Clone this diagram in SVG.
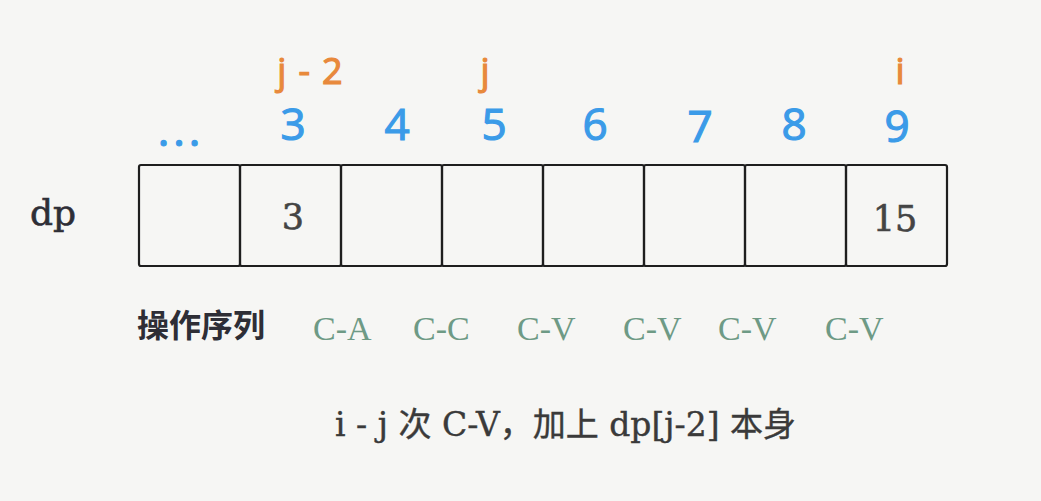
<svg xmlns="http://www.w3.org/2000/svg" width="1041" height="501" viewBox="0 0 1041 501">
<style>
.cell{fill:none;stroke:#1e1e1e;stroke-width:2.2}
.idx{font-family:"Open Sans","DejaVu Sans",sans-serif;font-size:44px;fill:#3b9be8;stroke:#3b9be8;stroke-width:1.2;text-anchor:middle}
.ptr{font-family:"Open Sans","DejaVu Sans",sans-serif;font-size:36px;fill:#e8893b;stroke:#e8893b;stroke-width:1.2;text-anchor:middle}
.val{font-family:"DejaVu Serif",serif;font-size:35px;fill:#444;stroke:#444;stroke-width:0.6;text-anchor:middle}
.op{font-family:"Liberation Serif",serif;font-size:34px;fill:#6e9a85}
.lbl{font-family:"DejaVu Serif",serif;font-size:36px;fill:#2e2e36;stroke:#2e2e36;stroke-width:0.6}
.cjk{font-family:"Noto Sans CJK SC",sans-serif;font-size:32px;font-weight:bold;fill:#2e2e36}
.note{font-family:"DejaVu Serif","Noto Sans CJK SC",serif;font-size:33px;fill:#3a3a3a;stroke:#3a3a3a;stroke-width:0.4}
</style>
<rect width="1041" height="501" fill="#f6f6f4"/>
<g id="pointers">
<text class="ptr" x="316" y="84" letter-spacing="12">j-2</text>
<text class="ptr" x="485" y="84">j</text>
<text class="ptr" x="900" y="84">i</text>
</g>
<g id="indices">
<text class="idx" x="181" y="146" letter-spacing="4">...</text>
<text class="idx" x="293" y="140">3</text>
<text class="idx" x="397" y="140">4</text>
<text class="idx" x="494" y="140">5</text>
<text class="idx" x="595" y="140">6</text>
<text class="idx" x="700" y="142">7</text>
<text class="idx" x="794" y="140">8</text>
<text class="idx" x="897" y="142">9</text>
</g>
<text class="lbl" x="30" y="225">dp</text>
<g id="cell-2"><rect class="cell" x="139" y="165" width="101" height="101" rx="2"/></g>
<g id="cell-3"><rect class="cell" x="240" y="165" width="101" height="101" rx="2"/><text class="val" x="293" y="229">3</text></g>
<g id="cell-4"><rect class="cell" x="341" y="165" width="101" height="101" rx="2"/></g>
<g id="cell-5"><rect class="cell" x="442" y="165" width="101" height="101" rx="2"/></g>
<g id="cell-6"><rect class="cell" x="543" y="165" width="101" height="101" rx="2"/></g>
<g id="cell-7"><rect class="cell" x="644" y="165" width="101" height="101" rx="2"/></g>
<g id="cell-8"><rect class="cell" x="745" y="165" width="101" height="101" rx="2"/></g>
<g id="cell-9"><rect class="cell" x="846" y="165" width="101" height="101" rx="2"/><text class="val" x="895" y="231">15</text></g>
<g id="ops">
<text class="cjk" x="137" y="337">操作序列</text>
<text class="op" x="313" y="340">C-A</text>
<text class="op" x="413" y="340">C-C</text>
<text class="op" x="517" y="340">C-V</text>
<text class="op" x="623" y="340">C-V</text>
<text class="op" x="718" y="340">C-V</text>
<text class="op" x="825" y="340">C-V</text>
</g>
<text class="note" x="335" y="436">i - j 次 C-V，加上 dp[j-2] 本身</text>
</svg>
